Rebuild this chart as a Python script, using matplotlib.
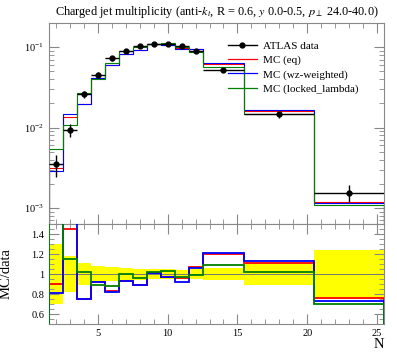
import numpy as np
import matplotlib
matplotlib.use("Agg")
from matplotlib import pyplot as plt
from matplotlib.lines import Line2D
from matplotlib.ticker import MultipleLocator, LogLocator, NullFormatter

plt.rcParams['font.family'] = ['Liberation Serif', 'DejaVu Serif']
plt.rcParams['mathtext.fontset'] = 'stix'

# bin edges (N)
edges = [1.5, 2.5, 3.5, 4.5, 5.5, 6.5, 7.5, 8.5, 9.5, 10.5, 11.5, 12.5, 15.5, 20.5, 25.5]

# ATLAS data and relative uncertainty
data = [0.0035, 0.0093, 0.026, 0.045, 0.073, 0.089, 0.104, 0.109, 0.109, 0.103, 0.089, 0.052, 0.0146, 0.00155]
data_relerr = [0.30, 0.18, 0.11, 0.085, 0.07, 0.06, 0.055, 0.05, 0.05, 0.045, 0.05, 0.06, 0.11, 0.245]

# MC predictions
mc_eq = [0.00315, 0.01346, 0.0195, 0.0413, 0.0608, 0.0825, 0.0926, 0.1098, 0.1061, 0.0986, 0.0955, 0.0622, 0.01616, 0.001173]
mc_wz = [0.00285, 0.0147, 0.0195, 0.0413, 0.0601, 0.0825, 0.0926, 0.1098, 0.1061, 0.0945, 0.0941, 0.0631, 0.01645, 0.001136]
mc_locked = [0.00543, 0.01067, 0.0266, 0.0399, 0.0640, 0.0887, 0.0995, 0.1109, 0.1126, 0.1002, 0.0881, 0.0567, 0.01494, 0.001085]

mc_labels = ["MC (eq)", "MC (wz-weighted)", "MC (locked_lambda)"]
mc_colors = ["red", "blue", "green"]

edges = np.array(edges)
data = np.array(data)
relerr = np.array(data_relerr)
centers = 0.5 * (edges[1:] + edges[:-1])
halfw = 0.5 * (edges[1:] - edges[:-1])

fig = plt.figure(figsize=(3.97, 3.58), dpi=100)
W, H = 397., 358.
ax = fig.add_axes([49/W, 1-224/H, 335/W, 201/H])
axr = fig.add_axes([49/W, 1-324/H, 335/W, 100/H], sharex=ax)

spine_col = "#888888"

# main panel
for vals, col in zip([mc_eq, mc_wz, mc_locked], mc_colors):
    ax.stairs(vals, edges, color=col, lw=0.8, zorder=2)
ax.errorbar(centers, data, xerr=halfw, yerr=data*relerr, fmt='o', color='black',
            ms=3.5, lw=1.8, elinewidth=1.0, capsize=0, zorder=3)

ax.set_yscale('log')
ax.set_ylim(6.3e-4, 0.2)
ax.set_xlim(1.5, 25.5)
ax.yaxis.set_major_locator(LogLocator(base=10))
ax.yaxis.set_minor_locator(LogLocator(base=10, subs=np.arange(2, 10)))
ax.yaxis.set_minor_formatter(NullFormatter())
plt.setp(ax.get_xticklabels(), visible=False)

handles = [Line2D([], [], color='black', lw=1.0, marker='o', ms=3.5)]
handles += [Line2D([], [], color=c, lw=0.9) for c in mc_colors]
ax.legend(handles, ["ATLAS data"] + mc_labels, loc='upper left',
          bbox_to_anchor=(0.51, 0.95), frameon=False, fontsize=8,
          handlelength=2.6, handletextpad=0.6, labelspacing=0.4, borderpad=0.2)

ax.set_title("Charged jet multiplicity (anti-$k_t$, R = 0.6, $y$ 0.0-0.5, $p_\\perp$ 24.0-40.0)",
             fontsize=8.8, pad=6)

# ratio panel
axr.stairs(1 + relerr, edges, baseline=1 - relerr, fill=True, color='yellow', lw=0, zorder=1)
axr.axhline(1.0, color='#777777', lw=0.7, zorder=2)
for vals, col in zip([mc_eq, mc_wz, mc_locked], mc_colors):
    axr.stairs(np.array(vals) / data, edges, color=col, lw=1.3, zorder=3)
axr.set_ylim(0.5, 1.5)
axr.yaxis.set_minor_locator(MultipleLocator(0.05))
axr.set_yticks([0.6, 0.8, 1.0, 1.2, 1.4])
axr.set_yticklabels(["0.6", "0.8", "1", "1.2", "1.4"])
axr.set_ylabel("MC/data", fontsize=10.5)
axr.yaxis.set_label_coords(-0.11, 0.5)
axr.set_xlabel("N", fontsize=10.5, loc='right', labelpad=0)
axr.xaxis.set_major_locator(MultipleLocator(5))
axr.xaxis.set_minor_locator(MultipleLocator(1))

for a in (ax, axr):
    a.tick_params(which='both', direction='in', top=True, right=True, colors='black',
                  labelsize=7.5, color=spine_col)
    a.tick_params(which='major', length=7, width=0.8)
    a.tick_params(which='minor', length=3.5, width=0.6)
    for s in a.spines.values():
        s.set_color(spine_col)
        s.set_linewidth(0.8)

fig.savefig("out.png", dpi=100)
